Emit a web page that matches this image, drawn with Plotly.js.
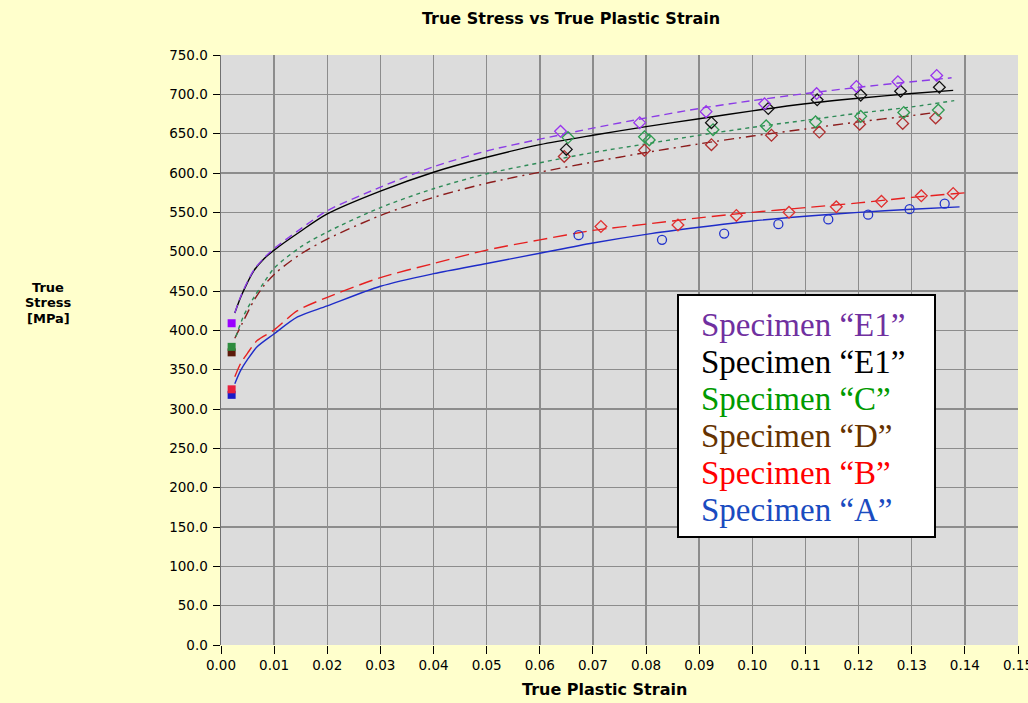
<!DOCTYPE html>
<html><head><meta charset="utf-8">
<script src="https://cdn.plot.ly/plotly-3.0.1.min.js"></script>
<style>html,body{margin:0;padding:0;background:#FFFFCC;} #chart{width:1028px;height:703px;}</style>
</head><body><div id="chart"></div>
<script>
// ---- Data ----
const legendLabels = ["Specimen \u201CE1\u201D", "Specimen \u201CE1\u201D", "Specimen \u201CC\u201D", "Specimen \u201CD\u201D", "Specimen \u201CB\u201D", "Specimen \u201CA\u201D"];

// fitted curves
const fitE1aX = [0.0026, 0.0037, 0.005, 0.0062, 0.0081, 0.01, 0.015, 0.02, 0.03, 0.04, 0.05, 0.06, 0.07, 0.08, 0.09, 0.10, 0.11, 0.12, 0.13, 0.1375];
const fitE1aY = [422, 443, 462, 477, 492, 504, 529, 552, 582, 608, 628, 643, 657, 670, 682, 692, 701, 709, 716, 721];
const fitE1bX = [0.0026, 0.0037, 0.005, 0.0062, 0.0081, 0.01, 0.015, 0.02, 0.03, 0.04, 0.05, 0.06, 0.07, 0.08, 0.09, 0.10, 0.11, 0.12, 0.13, 0.1378];
const fitE1bY = [422, 442, 461, 476, 491, 502, 526, 548, 577, 601, 620, 636, 648, 659, 669, 679, 688, 695, 701, 705];
const fitCX = [0.0028, 0.0043, 0.0062, 0.0081, 0.01, 0.015, 0.02, 0.03, 0.04, 0.05, 0.06, 0.07, 0.08, 0.09, 0.10, 0.11, 0.12, 0.13, 0.138];
const fitCY = [392, 419, 442, 461, 479, 506, 525, 556, 580, 599, 613, 626, 637, 648, 658, 667, 676, 684, 692];
const fitDX = [0.0026, 0.0043, 0.0062, 0.0081, 0.0103, 0.015, 0.02, 0.03, 0.04, 0.05, 0.06, 0.07, 0.08, 0.09, 0.10, 0.11, 0.12, 0.13, 0.1345];
const fitDY = [390, 413, 438, 457, 473, 497, 516, 546, 569, 587, 601, 614, 626, 637, 647, 656, 665, 673, 677];
const fitBX = [0.0026, 0.0037, 0.005, 0.0068, 0.0099, 0.0144, 0.02, 0.03, 0.04, 0.05, 0.06, 0.07, 0.08, 0.09, 0.10, 0.11, 0.12, 0.13, 0.1405];
const fitBY = [341, 358, 371, 387, 400, 425, 442, 467, 485, 502, 515, 527, 535, 543, 550, 556, 562, 569, 575];
const fitAX = [0.0026, 0.0037, 0.005, 0.0068, 0.0099, 0.0144, 0.02, 0.03, 0.04, 0.05, 0.06, 0.07, 0.08, 0.09, 0.10, 0.11, 0.12, 0.13, 0.139];
const fitAY = [332, 349, 363, 379, 395, 417, 431, 456, 472, 485, 498, 511, 522, 531, 539, 545, 550, 554, 557];

// measured points
const ptsE1aX = [0.0639, 0.0788, 0.0913, 0.1023, 0.1121, 0.1196, 0.1274, 0.1347];
const ptsE1aY = [653, 664, 678, 688, 701, 710, 716, 724];
const ptsE1bX = [0.0650, 0.0923, 0.1030, 0.1122, 0.1204, 0.1279, 0.1352];
const ptsE1bY = [630, 664, 682, 693, 699, 704, 709];
const ptsCX = [0.0653, 0.0797, 0.0806, 0.0926, 0.1026, 0.1119, 0.1204, 0.1285, 0.1350];
const ptsCY = [645, 646, 642, 655, 660, 665, 672, 677, 680];
const ptsDX = [0.0646, 0.0797, 0.0923, 0.1036, 0.1126, 0.1202, 0.1283, 0.1345];
const ptsDY = [621, 629, 636, 648, 652, 662, 663, 670];
const ptsBX = [0.0715, 0.0860, 0.0970, 0.1069, 0.1158, 0.1243, 0.1318, 0.1378];
const ptsBY = [532, 534, 546, 550, 557, 564, 571, 574];
const ptsAX = [0.0673, 0.0830, 0.0947, 0.1049, 0.1143, 0.1218, 0.1296, 0.1362];
const ptsAY = [521, 515, 523, 535, 541, 547, 554, 561];

// yield points (filled squares), drawn in this order
const yieldNames = ["E1", "D", "C", "A", "B"];
const yieldX = [0.002, 0.002, 0.002, 0.002, 0.002];
const yieldY = [409, 372, 379, 318, 325];

// ---- Styles ----
const lineColors = {E1a: "#8C3CE6", E1b: "#000000", C: "#2E8B57", D: "#8B1C1C", B: "#E62020", A: "#1E2CC8"};
const markColors = {E1a: "#9933EE", E1b: "#111111", C: "#2E9B50", D: "#B03030", B: "#E03030", A: "#2233CC"};
const yieldColors = ["#9900FF", "#5C1A0A", "#2E8B3E", "#1A1AC8", "#E8203C"];
const legendColors = ["#7030A0", "#000000", "#009A00", "#663300", "#FF0000", "#1A4BC0"];

function fit(x, y, c, dash) {
  return {x: x, y: y, type: "scatter", mode: "lines",
    line: {color: c, width: 1.4, dash: dash, shape: "spline", smoothing: 0.8}, hoverinfo: "skip"};
}
function pts(x, y, c, sym) {
  return {x: x, y: y, type: "scatter", mode: "markers",
    marker: {symbol: sym, size: 9, color: c, line: {color: c, width: 1.3}}, hoverinfo: "skip"};
}

const traces = [
  fit(fitAX, fitAY, lineColors.A, "solid"),
  fit(fitBX, fitBY, lineColors.B, "14px,6px"),
  fit(fitDX, fitDY, lineColors.D, "10px,5px,2px,5px"),
  fit(fitCX, fitCY, lineColors.C, "4px,4px"),
  fit(fitE1bX, fitE1bY, lineColors.E1b, "solid"),
  fit(fitE1aX, fitE1aY, lineColors.E1a, "8px,5px"),
  pts(ptsAX, ptsAY, markColors.A, "circle-open"),
  pts(ptsBX, ptsBY, markColors.B, "diamond-open"),
  pts(ptsDX, ptsDY, markColors.D, "diamond-open"),
  pts(ptsCX, ptsCY, markColors.C, "diamond-open"),
  pts(ptsE1bX, ptsE1bY, markColors.E1b, "diamond-open"),
  pts(ptsE1aX, ptsE1aY, markColors.E1a, "diamond-open")
];
yieldNames.forEach(function (n, i) {
  traces.push({x: [yieldX[i]], y: [yieldY[i]], type: "scatter", mode: "markers", name: n,
    marker: {symbol: "square", size: 8, color: yieldColors[i]}, hoverinfo: "skip"});
});

// ---- Layout (pixel helpers for plot area 221..1018 x 55..645) ----
const L = 221, R = 1018, T = 55, B = 645;
const px = function (p) { return (p - L) / (R - L); };
const py = function (p) { return (B - p) / (B - T); };

const annotations = [];
const legendCenters = [325, 362, 399, 436, 473, 510];
legendLabels.forEach(function (t, i) {
  annotations.push({text: t, xref: "paper", yref: "paper", x: px(699), y: py(legendCenters[i]),
    xanchor: "left", yanchor: "middle", showarrow: false,
    font: {family: "Liberation Serif, Times New Roman, serif", size: 33, color: legendColors[i]}});
});
const yTitleLines = ["True", "Stress", "[MPa]"];
const yTitleCenters = [287, 302, 318];
yTitleLines.forEach(function (t, i) {
  annotations.push({text: "<b>" + t + "</b>", xref: "paper", yref: "paper", x: px(48), y: py(yTitleCenters[i]),
    xanchor: "center", yanchor: "middle", showarrow: false,
    font: {family: "DejaVu Sans", size: 13, color: "#000"}});
});
annotations.push({text: "<b>True Plastic Strain</b>", xref: "paper", yref: "paper", x: px(604), y: py(689),
  xanchor: "center", yanchor: "middle", showarrow: false,
  font: {family: "DejaVu Sans", size: 16, color: "#000"}});

const layout = {
  width: 1028, height: 703,
  margin: {l: L, r: 1028 - R, t: T, b: 703 - B, pad: 0},
  paper_bgcolor: "#FFFFCC", plot_bgcolor: "#DCDCDC",
  showlegend: false, hovermode: false,
  title: {text: "<b>True Stress vs True Plastic Strain</b>", xref: "container", yref: "container",
    x: 571 / 1028, y: 1 - 18 / 703, xanchor: "center", yanchor: "middle",
    font: {family: "DejaVu Sans", size: 16, color: "#000"}},
  xaxis: {range: [0, 0.15], dtick: 0.01, tick0: 0, tickformat: ".2f",
    showgrid: true, gridcolor: "#8C8C8C", gridwidth: 1.5, zeroline: false,
    showline: false, ticks: "outside", ticklen: 8, tickcolor: "#000", tickwidth: 1,
    ticklabeloverflow: "allow",
    tickfont: {family: "DejaVu Sans", size: 13.5, color: "#000"}},
  yaxis: {range: [0, 750], dtick: 50, tick0: 0, tickformat: ".1f",
    showgrid: true, gridcolor: "#8C8C8C", gridwidth: 1.5, zeroline: false,
    showline: true, linecolor: "#707070", linewidth: 1.5,
    ticks: "outside", ticklen: 7, tickcolor: "#000", tickwidth: 1, ticklabelstandoff: 2,
    tickfont: {family: "DejaVu Sans", size: 13.5, color: "#000"}},
  shapes: [{type: "rect", xref: "paper", yref: "paper", x0: px(678), x1: px(935), y0: py(537), y1: py(295),
    fillcolor: "#FFFFFF", line: {color: "#000", width: 2}, layer: "above"}],
  annotations: annotations
};

Plotly.newPlot("chart", traces, layout, {displayModeBar: false, staticPlot: true});
</script></body></html>
